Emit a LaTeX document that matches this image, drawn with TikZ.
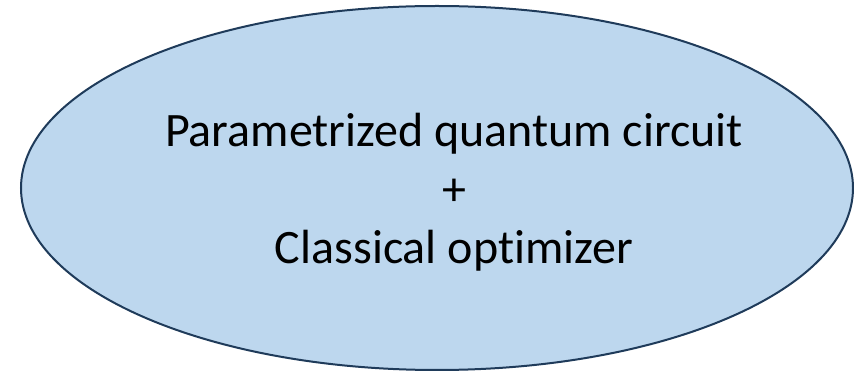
\documentclass[tikz,border=0pt]{standalone}
\usepackage{fontspec}
\setmainfont{Carlito}[Ligatures={NoCommon,NoContextual}]
\usetikzlibrary{shapes.geometric}
\definecolor{fillblue}{HTML}{BDD7EE}
\definecolor{edgeblue}{HTML}{1F3B5A}
\tikzset{
  bubble/.style={ellipse, draw=edgeblue, fill=fillblue, line width=2pt, inner sep=0pt,
    minimum width=832pt, minimum height=364pt},
  label text/.style={align=center, font=\fontsize{48}{58.5}\selectfont, text=black, inner sep=0pt}
}
\begin{document}
\begin{tikzpicture}[x=1pt,y=1pt]
\useasboundingbox (0,0) rectangle (854,372);
\node[bubble] (e) at (437,184) {};
\node[label text, anchor=base] (t) at (454,108) {Parametrized quantum circuit\\+\\Classical optimizer};
\end{tikzpicture}
\end{document}
